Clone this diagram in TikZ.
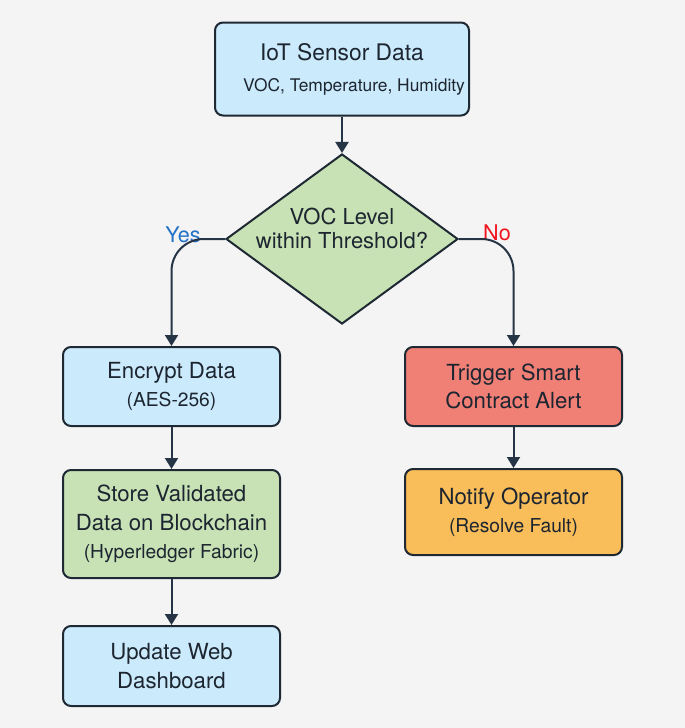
\documentclass[tikz,border=0pt]{standalone}
\usepackage{fontspec}
\setmainfont{TeX Gyre Heros}
\usepackage{tikz}
\usetikzlibrary{
  arrows.meta,
  shapes.geometric,
  positioning
}
\definecolor{fcBg}{HTML}{F4F4F4}
\definecolor{fcLine}{HTML}{1F2933}
\definecolor{fcArrow}{HTML}{263545}
\definecolor{fcText}{HTML}{1C2530}
\definecolor{fcBlue}{HTML}{CBEAFB}
\definecolor{fcGreen}{HTML}{C8E2B5}
\definecolor{fcRed}{HTML}{F07F75}
\definecolor{fcOrange}{HTML}{F9BD59}
\definecolor{fcYes}{HTML}{2272C7}
\definecolor{fcNo}{HTML}{F0141E}
\newcommand{\subtxt}[2]{{\fontsize{#1}{14}\selectfont #2}}
\tikzset{
  fcnode/.style={
    draw=fcLine, line width=1pt, rounded corners=4pt, align=center,
    text=fcText, inner sep=0pt, minimum width=108.5pt,
    font=\fontsize{11.1}{14.2}\selectfont
  },
  infobox/.style={fcnode, fill=fcBlue},
  storebox/.style={fcnode, fill=fcGreen},
  alertbox/.style={fcnode, fill=fcRed},
  notebox/.style={fcnode, fill=fcOrange},
  decision/.style={
    diamond, draw=fcLine, line width=1pt, fill=fcGreen, inner sep=0pt,
    minimum width=116pt, minimum height=85pt
  },
  dtext/.style={align=center, text=fcText, font=\fontsize{11}{12}\selectfont},
  flowarrow/.style={-{Triangle[length=5.5pt, width=6.5pt]}, line width=1pt, fcArrow},
  yeslbl/.style={font=\fontsize{10.8}{12}\selectfont, text=fcYes},
  nolbl/.style={font=\fontsize{10.8}{12}\selectfont, text=fcNo}
}
\begin{document}
\begin{tikzpicture}[x=0.5pt, y=-0.5pt]
  \fill[fcBg] (0,0) rectangle (685,728);
  \node[infobox, minimum width=127pt, minimum height=46.5pt,
    font=\fontsize{11.4}{15.5}\selectfont] (sensor) at (342,69)
    {IoT Sensor Data\\\hspace*{12pt}\subtxt{8.7}{VOC, Temperature, Humidity}};
  \node[decision] (check) at (342,239) {};
  \node[dtext] (checktext) at (342,228) {VOC Level\\within Threshold?};
  \node[infobox, minimum height=39.5pt] (encrypt) at (171.5,386.5)
    {Encrypt Data\\\subtxt{9.6}{(AES-256)}};
  \node[storebox, minimum height=54pt] (store) at (171.5,524)
    {Store Validated\\Data on Blockchain\\\subtxt{9.6}{(Hyperledger Fabric)}};
  \node[infobox, minimum height=40pt] (dashboard) at (171.5,666)
    {Update Web\\Dashboard};
  \node[alertbox, minimum height=39.5pt] (trigger) at (513.5,386.5)
    {Trigger Smart\\Contract Alert};
  \node[notebox, minimum height=43pt] (notify) at (513.5,512)
    {Notify Operator\\\subtxt{9.6}{(Resolve Fault)}};
  \node[yeslbl] (yes) at (183,235) {Yes};
  \node[nolbl] (no) at (497,233) {No};

  \draw[flowarrow] (sensor) -- (check);
  \draw[flowarrow, rounded corners=16pt] (check.west) -| (encrypt.north);
  \draw[flowarrow, rounded corners=16pt] (check.east) -| (trigger.north);
  \draw[flowarrow] (encrypt) -- (store);
  \draw[flowarrow] (store) -- (dashboard);
  \draw[flowarrow] (trigger) -- (notify);
\end{tikzpicture}
\end{document}
